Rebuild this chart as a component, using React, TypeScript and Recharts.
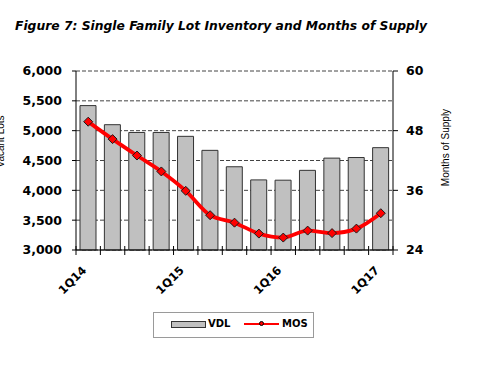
import React from 'react'
import {
  ComposedChart, Bar, Line, XAxis, YAxis, CartesianGrid,
} from 'recharts'

const quarters = [
  '1Q14', '2Q14', '3Q14', '4Q14',
  '1Q15', '2Q15', '3Q15', '4Q15',
  '1Q16', '2Q16', '3Q16', '4Q16',
  '1Q17',
]
const vdl = [5420, 5100, 4970, 4970, 4905, 4670, 4395, 4175, 4170, 4335, 4540, 4550, 4715]
const mos = [49.8, 46.3, 43.0, 39.8, 35.9, 31.0, 29.5, 27.3, 26.5, 27.9, 27.4, 28.3, 31.4]
const labeledQuarters = ['1Q14', '1Q15', '1Q16', '1Q17']
const leftTicks = [3000, 3500, 4000, 4500, 5000, 5500, 6000]
const rightTicks = [24, 36, 48, 60]

const TITLE = 'Figure 7: Single Family Lot Inventory and Months of Supply'
const AXIS_FONT = '"DejaVu Sans", Verdana, sans-serif'

const rows = quarters.map((q, i) => ({ idx: i, q, vdl: vdl[i], mos: mos[i] }))
// tick at every band edge and every band centre
const xTicks = [...quarters.flatMap((_, i) => [i - 0.5, i]), quarters.length - 0.5]

function QuarterTick(props: any) {
  const { x, y, payload } = props
  const v = payload.value as number
  if (!Number.isInteger(v)) {
    return <line x1={x} x2={x} y1={y - 4} y2={y + 5} stroke="#000" />
  }
  const q = quarters[v]
  if (!labeledQuarters.includes(q)) return null
  const ax = x - 1
  const ay = y + 21
  return (
    <text
      x={ax}
      y={ay}
      transform={`rotate(-45, ${ax}, ${ay})`}
      textAnchor="end"
      fontFamily={AXIS_FONT}
      fontWeight="bold"
      fontSize={11.5}
      fill="#000"
    >
      {q}
    </text>
  )
}

function Diamond(props: any) {
  const { cx, cy } = props
  if (cx == null || cy == null) return null
  const r = 4.5
  return (
    <polygon
      points={`${cx},${cy - r} ${cx + r},${cy} ${cx},${cy + r} ${cx - r},${cy}`}
      fill="#ff0000"
      stroke="#1a1a1a"
      strokeWidth={1}
    />
  )
}

export default function App() {
  return (
    <div style={{ position: 'absolute', left: 0, top: 0, width: 488, height: 367, background: '#fff', overflow: 'hidden' }}>
      <svg width={488} height={40} style={{ position: 'absolute', left: 0, top: 0 }}>
        <text
          x={15}
          y={30}
          fontFamily={AXIS_FONT}
          fontWeight="bold"
          fontStyle="italic"
          fontSize={12.5}
          textLength={412}
          lengthAdjust="spacingAndGlyphs"
          fill="#000"
        >
          {TITLE}
        </text>
      </svg>
      <div style={{ position: 'absolute', left: 0, top: 0 }}>
        <ComposedChart
          width={488}
          height={367}
          data={rows}
          margin={{ top: 71, right: 35, bottom: 67, left: 0 }}
        >
          <CartesianGrid
            yAxisId="left"
            vertical={false}
            stroke="#444"
            strokeDasharray="4 2"
          />
          <XAxis
            dataKey="idx"
            type="number"
            domain={[-0.5, quarters.length - 0.5]}
            ticks={xTicks}
            interval={0}
            height={50}
            axisLine={{ stroke: '#000' }}
            tickLine={false}
            tickSize={0}
            tickMargin={0}
            tick={<QuarterTick />}
          />
          <YAxis
            yAxisId="left"
            orientation="left"
            width={76}
            domain={[3000, 6000]}
            ticks={leftTicks}
            interval={0}
            tickFormatter={(v: number) => v.toLocaleString('en-US')}
            axisLine={{ stroke: '#000' }}
            tickLine={{ stroke: '#000' }}
            tickSize={4}
            tickMargin={10}
            tick={{ fontFamily: AXIS_FONT, fontWeight: 'bold', fontSize: 12.5, fill: '#000' }}
            label={{
              value: 'Vacant Lots',
              angle: -90,
              position: 'center',
              dx: -38,
              dy: -19,
              style: { fontFamily: '"Liberation Sans", Arial, sans-serif', fontSize: 10, fill: '#000' },
            }}
          />
          <YAxis
            yAxisId="right"
            orientation="right"
            width={60}
            domain={[24, 60]}
            ticks={rightTicks}
            interval={0}
            axisLine={{ stroke: '#000' }}
            tickLine={{ stroke: '#000' }}
            tickSize={5}
            tickMargin={8}
            tick={{ fontFamily: AXIS_FONT, fontWeight: 'bold', fontSize: 12.5, fill: '#000' }}
            label={{
              value: 'Months of Supply',
              angle: -90,
              position: 'center',
              dx: 22,
              dy: -13,
              style: { fontFamily: '"Liberation Sans", Arial, sans-serif', fontSize: 10, fill: '#000' },
            }}
          />
          <Bar
            yAxisId="left"
            dataKey="vdl"
            name="VDL"
            barSize={16}
            fill="#c0c0c0"
            stroke="#333"
            strokeWidth={1}
            isAnimationActive={false}
          />
          <Line
            yAxisId="right"
            dataKey="mos"
            name="MOS"
            type="monotone"
            stroke="#ff0000"
            strokeWidth={3.8}
            dot={<Diamond />}
            activeDot={false}
            isAnimationActive={false}
          />
        </ComposedChart>
      </div>
      <div
        style={{
          position: 'absolute', left: 153, top: 312, width: 161, height: 26,
          border: '1px solid #9a9a9a', boxSizing: 'border-box',
          fontFamily: AXIS_FONT, fontWeight: 'bold', fontSize: 10, color: '#000',
        }}
      >
        <div style={{ position: 'absolute', left: 17, top: 8, width: 33, height: 5, background: '#c0c0c0', border: '1px solid #333' }} />
        <span style={{ position: 'absolute', left: 54, top: 5 }}>VDL</span>
        <div style={{ position: 'absolute', left: 90, top: 10, width: 35, height: 2, background: '#ff0000' }} />
        <div style={{ position: 'absolute', left: 105, top: 8, width: 5, height: 5, borderRadius: 3, background: '#ff0000', border: '1px solid #000', boxSizing: 'border-box' }} />
        <span style={{ position: 'absolute', left: 128, top: 5 }}>MOS</span>
      </div>
    </div>
  )
}
